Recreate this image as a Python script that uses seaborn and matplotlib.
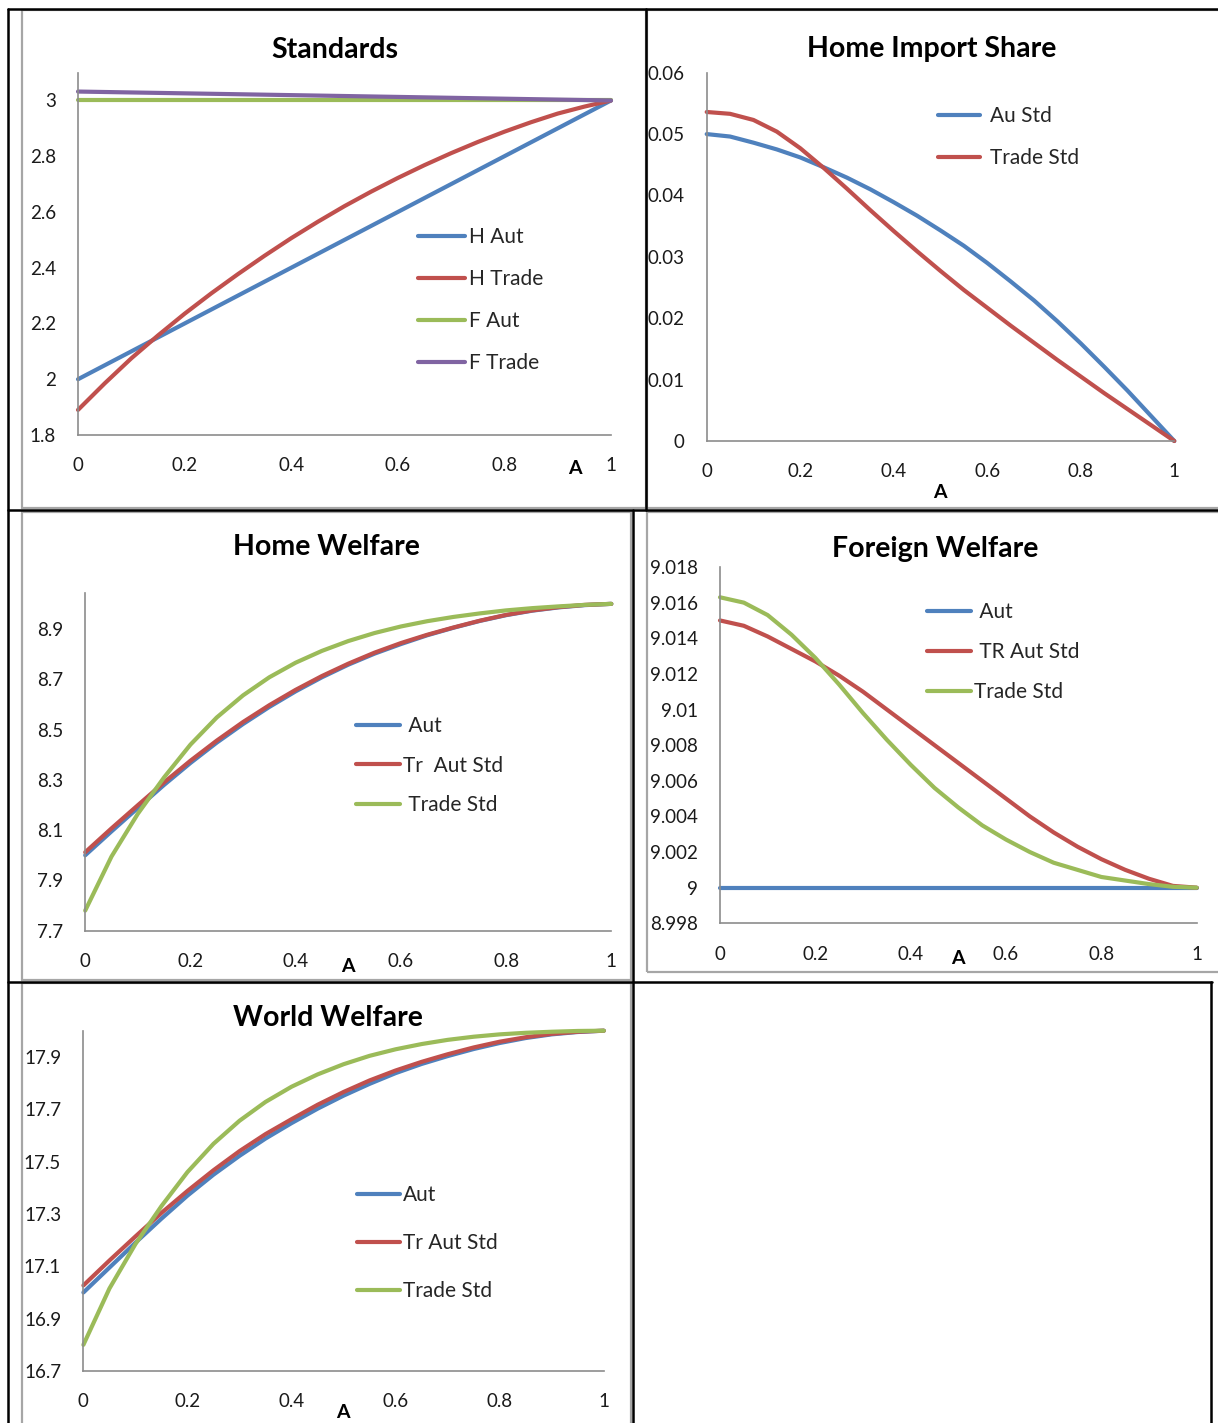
import matplotlib
matplotlib.use("Agg")
import matplotlib.pyplot as plt
import matplotlib.ticker as mticker
from matplotlib.lines import Line2D
from matplotlib.patches import Rectangle
import pandas as pd
import seaborn as sns

# ---- data (A = 0, 0.05, ..., 1) ----
a_vals = [0, 0.05, 0.1, 0.15, 0.2, 0.25, 0.3, 0.35, 0.4, 0.45, 0.5,
          0.55, 0.6, 0.65, 0.7, 0.75, 0.8, 0.85, 0.9, 0.95, 1]

# Standards
std_h_aut = [2.0, 2.05, 2.1, 2.15, 2.2, 2.25, 2.3, 2.35, 2.4, 2.45, 2.5,
             2.55, 2.6, 2.65, 2.7, 2.75, 2.8, 2.85, 2.9, 2.95, 3.0]
std_h_trade = [1.89, 1.985, 2.075, 2.157, 2.235, 2.308, 2.377, 2.443, 2.506, 2.565, 2.621,
               2.673, 2.722, 2.768, 2.811, 2.851, 2.888, 2.922, 2.953, 2.978, 3.0]
std_f_aut = [3.0] * 21
std_f_trade = [3.032, 3.0304, 3.0288, 3.0272, 3.0256, 3.024, 3.0224, 3.0208, 3.0192, 3.0176, 3.016,
               3.0144, 3.0128, 3.0112, 3.0096, 3.008, 3.0064, 3.0048, 3.0032, 3.0016, 3.0]

# Home import share
imp_au_std = [0.0500, 0.0496, 0.0486, 0.0475, 0.0462, 0.0446, 0.0429, 0.0410, 0.0389, 0.0367, 0.0343,
              0.0318, 0.0290, 0.0260, 0.0229, 0.0195, 0.0159, 0.0121, 0.0082, 0.0041, 0.0]
imp_trade_std = [0.0536, 0.0533, 0.0523, 0.0504, 0.0477, 0.0445, 0.0411, 0.0376, 0.0342, 0.0309, 0.0277,
                 0.0246, 0.0217, 0.0188, 0.0160, 0.0132, 0.0105, 0.0078, 0.0052, 0.0026, 0.0]

# Home welfare
hw_aut = [8.0, 8.095, 8.188, 8.28, 8.367, 8.448, 8.522, 8.59, 8.652, 8.708, 8.758,
          8.802, 8.84, 8.875, 8.905, 8.932, 8.955, 8.973, 8.986, 8.995, 9.0]
hw_tr_aut = [8.012, 8.107, 8.199, 8.29, 8.376, 8.456, 8.53, 8.597, 8.658, 8.713, 8.762,
             8.806, 8.844, 8.877, 8.906, 8.933, 8.956, 8.974, 8.987, 8.996, 9.0]
hw_trade = [7.78, 7.995, 8.165, 8.31, 8.44, 8.548, 8.636, 8.708, 8.766, 8.813, 8.852,
            8.884, 8.91, 8.931, 8.948, 8.962, 8.974, 8.983, 8.99, 8.996, 9.0]

# Foreign welfare
fw_aut = [9.0] * 21
fw_tr_aut = [9.0150, 9.0147, 9.0141, 9.0134, 9.0127, 9.0119, 9.0110, 9.0100, 9.0090, 9.0080, 9.0070,
             9.0060, 9.0050, 9.0040, 9.0031, 9.0023, 9.0016, 9.0010, 9.0005, 9.0001, 9.0]
fw_trade = [9.0163, 9.0160, 9.0153, 9.0142, 9.0129, 9.0114, 9.0098, 9.0083, 9.0069, 9.0056, 9.0045,
            9.0035, 9.0027, 9.0020, 9.0014, 9.0010, 9.0006, 9.0004, 9.0002, 9.00005, 9.0]

# World welfare
ww_aut = [17.0, 17.095, 17.19, 17.282, 17.37, 17.45, 17.522, 17.588, 17.647, 17.702, 17.752,
          17.797, 17.838, 17.873, 17.903, 17.93, 17.953, 17.972, 17.986, 17.995, 18.0]
ww_tr_aut = [17.027, 17.122, 17.214, 17.304, 17.388, 17.467, 17.54, 17.605, 17.662, 17.717, 17.766,
             17.81, 17.848, 17.881, 17.91, 17.936, 17.958, 17.975, 17.988, 17.996, 18.0]
ww_trade = [16.80, 17.015, 17.185, 17.33, 17.46, 17.568, 17.656, 17.728, 17.786, 17.833, 17.872,
            17.904, 17.929, 17.949, 17.965, 17.977, 17.986, 17.992, 17.996, 17.999, 18.0]

BLUE, RED, GREEN, PURPLE = "#4F81BD", "#C0504D", "#9BBB59", "#8064A2"
W, H = 1218, 1423

sns.set_style("white")
plt.rcParams["font.family"] = ["Lato", "DejaVu Sans"]

fig = plt.figure(figsize=(W / 100, H / 100), dpi=100)


def fx(x):
    return x / W


def fy(y):
    return 1 - y / H


def px_axes(left, top, right, bottom):
    return fig.add_axes([fx(left), fy(bottom), (right - left) / W, (bottom - top) / H])


def long_frame(series):
    rows = []
    for name, vals in series:
        for a, v in zip(a_vals, vals):
            rows.append({"A": a, "value": v, "series": name})
    return pd.DataFrame(rows)


def draw_chart(box, series, colors, ylim, yticks, title, title_xy, a_xy, leg):
    ax = px_axes(*box)
    df = long_frame(series)
    names = [s[0] for s in series]
    sns.lineplot(data=df, x="A", y="value", hue="series", hue_order=names,
                 palette=colors, linewidth=3.0, ax=ax, sort=True)
    for ln in ax.get_lines():
        ln.set_clip_on(False)
        ln.set_solid_capstyle("round")
        ln.set_solid_joinstyle("round")
    ax.set_xlim(0, 1)
    ax.set_ylim(*ylim)
    ax.set_xticks([0, 0.2, 0.4, 0.6, 0.8, 1.0])
    ax.set_yticks(yticks)
    fmt = mticker.FuncFormatter(lambda v, p: f"{v:.6g}")
    ax.xaxis.set_major_formatter(fmt)
    ax.yaxis.set_major_formatter(fmt)
    ax.set_xlabel("")
    ax.set_ylabel("")
    for side in ("top", "right"):
        ax.spines[side].set_visible(False)
    for side in ("left", "bottom"):
        ax.spines[side].set_color("#8c8c8c")
        ax.spines[side].set_linewidth(1.2)
    ax.tick_params(axis="both", direction="out", length=5, width=1.2,
                   color="#8c8c8c", labelsize=13.5, labelcolor="#1a1a1a")
    ax.tick_params(axis="x", pad=11)
    ax.tick_params(axis="y", pad=11)

    handles, labels = ax.get_legend_handles_labels()
    lx, ly, hlen, hpad, lspace, llabels = leg
    ax.legend(handles, llabels, loc="upper left",
              bbox_to_anchor=(fx(lx), fy(ly)), bbox_transform=fig.transFigure,
              frameon=False, borderpad=0, borderaxespad=0, fontsize=15,
              handlelength=hlen, handletextpad=hpad, labelspacing=lspace)

    fig.text(fx(title_xy[0]), fy(title_xy[1]), title, ha="center", va="center",
             fontsize=20.5, fontweight="bold", color="black")
    fig.text(fx(a_xy[0]), fy(a_xy[1]), "A", ha="center", va="center",
             fontsize=14, fontweight="bold", color="black")
    return ax


# Standards
draw_chart((78, 72.6, 611, 435),
           [("H Aut", std_h_aut), ("H Trade", std_h_trade),
            ("F Aut", std_f_aut), ("F Trade", std_f_trade)],
           [BLUE, RED, GREEN, PURPLE], (1.8, 3.1), [1.8, 2.0, 2.2, 2.4, 2.6, 2.8, 3.0],
           "Standards", (335, 50), (575, 468),
           (418, 227, 2.25, 0.2, 1.06, ["H Aut", "H Trade", "F Aut", "F Trade"]))

# Home import share
draw_chart((706.7, 72.7, 1174.3, 441),
           [("Au Std", imp_au_std), ("Trade Std", imp_trade_std)],
           [BLUE, RED], (0, 0.06), [0, 0.01, 0.02, 0.03, 0.04, 0.05, 0.06],
           "Home Import Share", (932, 49), (940, 492),
           (938, 106, 2.0, 0.5, 1.06, ["Au Std", "Trade Std"]))

# Home welfare
draw_chart((85.2, 593.3, 611.3, 930.7),
           [("Aut", hw_aut), ("Tr  Aut Std", hw_tr_aut), ("Trade Std", hw_trade)],
           [BLUE, RED, GREEN], (7.7, 9.042), [7.7, 7.9, 8.1, 8.3, 8.5, 8.7, 8.9],
           "Home Welfare", (326, 547), (348, 966),
           (356, 716, 2.1, 0.15, 0.94, [" Aut", "Tr  Aut Std", " Trade Std"]))

# Foreign welfare
draw_chart((720, 567, 1196.7, 923.3),
           [("Aut", fw_aut), ("TR Aut Std", fw_tr_aut), ("Trade Std", fw_trade)],
           [BLUE, RED, GREEN], (8.998, 9.018),
           [8.998, 9.0, 9.002, 9.004, 9.006, 9.008, 9.01, 9.012, 9.014, 9.016, 9.018],
           "Foreign Welfare", (935, 549), (958, 958),
           (927, 602, 2.1, 0.15, 0.96, [" Aut", " TR Aut Std", "Trade Std"]))

# World welfare
draw_chart((83.4, 1030.7, 603.8, 1371),
           [("Aut", ww_aut), ("Tr Aut Std", ww_tr_aut), ("Trade Std", ww_trade)],
           [BLUE, RED, GREEN], (16.7, 18.0), [16.7, 16.9, 17.1, 17.3, 17.5, 17.7, 17.9],
           "World Welfare", (328, 1018), (343, 1412),
           (357, 1185, 2.07, 0.15, 1.35, ["Aut", "Tr Aut Std", "Trade Std"]))

# gray chart frames
for (l, t, r, b) in [(22, 10, 646, 508), (647, 10, 1222, 508), (22, 512, 631, 980),
                     (647, 512, 1222, 972), (22, 983, 631, 1430)]:
    fig.add_artist(Rectangle((fx(l), fy(b)), (r - l) / W, (b - t) / H,
                             transform=fig.transFigure, fill=False,
                             edgecolor="#a6a6a6", linewidth=1.6))

# black table borders
for (x0, y0, x1, y1) in [(8, 9, 1218, 9), (8, 9, 8, 1423), (8, 510, 1218, 510),
                         (8, 981.5, 1212, 981.5), (645.5, 9, 645.5, 510),
                         (633, 510, 633, 1423), (1211, 981.5, 1211, 1423)]:
    fig.add_artist(Line2D([fx(x0), fx(x1)], [fy(y0), fy(y1)], transform=fig.transFigure,
                          color="black", linewidth=1.8))

fig.savefig("out.png", dpi=100)
